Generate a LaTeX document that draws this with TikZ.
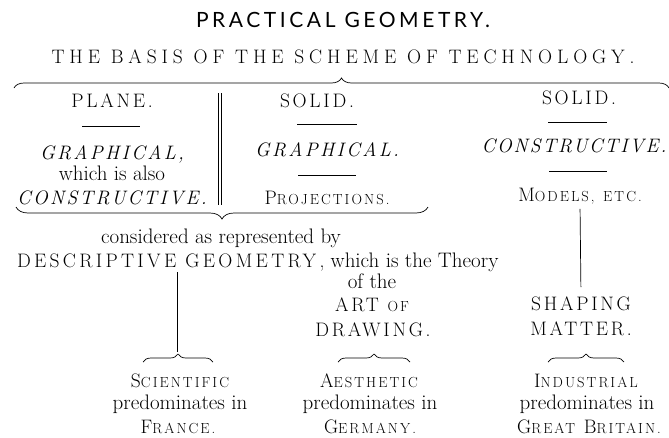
\documentclass[tikz,border=0pt]{standalone}
\usepackage{fontspec}
\setmainfont{Latin Modern Roman}
\newfontfamily\titlefam{Lato}
\usetikzlibrary{decorations.pathreplacing}
\newcommand\LS[1]{\addfontfeatures{LetterSpace=#1}}
\newcommand\smc[2]{#1{\fontsize{14.6}{15}\selectfont #2}}
\begin{document}
\begin{tikzpicture}[x=1pt,y=-1pt,
  every node/.style={inner sep=0pt,outer sep=0pt},
  titlef/.style={anchor=base,font=\titlefam\fontsize{21}{24}\selectfont\LS{17}},
  subf/.style={anchor=base,font=\fontsize{19.5}{22}\selectfont\LS{25}},
  body/.style={anchor=base,font=\fontsize{21}{23}\selectfont},
  caps/.style={anchor=base,font=\fontsize{19.5}{22}\selectfont\LS{14}},
  icaps/.style={anchor=base,font=\fontsize{19.5}{22}\selectfont\itshape\LS{12}},
  rulel/.style={line width=0.7pt},
  bracel/.style={decorate,decoration={brace,amplitude=#1},line width=0.7pt},
  conn/.style={line width=0.7pt}]
\useasboundingbox (0,0) rectangle (669,437);
% titles
\node[titlef] (title) at (343,27) {PRACTICAL GEOMETRY.};
\node[subf] (sub) at (343,63) {THE BASIS OF THE SCHEME OF TECHNOLOGY.};
\draw[bracel=10pt] (14,88) -- (669,88);
% column 1
\node[caps] (plane) at (112,107) {PLANE.};
\draw[rulel] (82,126) -- (140,126);
\node[icaps] (graph1) at (112,159) {GRAPHICAL,};
\node[body] (also) at (112,180) {which is also};
\node[icaps] (cons1) at (112,204) {CONSTRUCTIVE.};
\draw[rulel] (218,93) -- (218,205);
\draw[rulel] (221,93) -- (221,205);
% column 2
\node[caps] (solid2) at (317,107) {SOLID.};
\draw[rulel] (297,124) -- (357,124);
\node[icaps] (graph2) at (327,156) {GRAPHICAL.};
\draw[rulel] (298,175) -- (356,175);
\node[caps] (proj) at (327,204) {\smc{P}{ROJECTIONS.}};
\draw[bracel=12pt] (428,207) -- (16,207);
% column 3
\node[caps] (solid3) at (579,104) {SOLID.};
\draw[rulel] (548,122) -- (607,122);
\node[icaps,font=\fontsize{19.5}{22}\selectfont\itshape\LS{10}] (cons3) at (574,152) {CONSTRUCTIVE.};
\draw[rulel] (549,171) -- (607,171);
\node[caps] (models) at (580,201) {\smc{M}{ODELS,} \smc{}{ETC.}};
% lower part
\node[body] (consid) at (221,243) {considered as represented by};
\node[body,anchor=base west] (desc) at (17,267) {{\fontsize{19.5}{22}\selectfont\LS{17}DESCRIPTIVE GEOMETRY,} which is the Theory};
\node[body] (ofthe) at (372,288) {of the};
\node[caps] (art) at (372,311) {ART \smc{}{OF}};
\node[caps] (drawing) at (373,336) {DRAWING.};
\node[caps] (shaping) at (581,310) {SHAPING};
\node[caps] (matter) at (581,335) {MATTER.};
% braces
\draw[bracel=8pt] (143,362) -- (213,362);
\draw[bracel=8pt] (338,362) -- (410,362);
\draw[bracel=8pt] (548,362) -- (624,362);
\coordinate (dtop) at (177,272);
\coordinate (sbtip) at (177,352);
\draw[conn] (dtop) -- (sbtip);
\draw[conn,shorten <=5pt,shorten >=9pt] (models.south) -- (shaping.north);
% bottom texts
\node[caps] (sci) at (180,387) {\smc{S}{CIENTIFIC}};
\node[body] (pred1) at (180,409) {predominates in};
\node[caps] (france) at (178,433) {\smc{F}{RANCE.}};
\node[caps] (aes) at (369,387) {\smc{A}{ESTHETIC}};
\node[body] (pred2) at (370,409) {predominates in};
\node[caps] (germany) at (370,433) {\smc{G}{ERMANY.}};
\node[caps] (ind) at (586,387) {\smc{I}{NDUSTRIAL}};
\node[body] (pred3) at (587,409) {predominates in};
\node[caps] (gb) at (589,433) {\smc{G}{REAT} \smc{B}{RITAIN.}};
\end{tikzpicture}
\end{document}
